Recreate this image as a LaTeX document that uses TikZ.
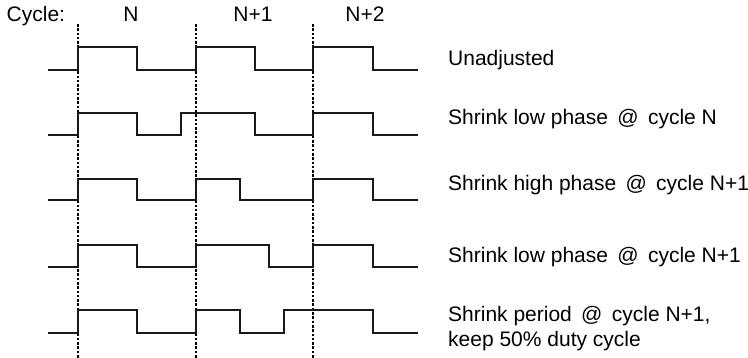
\documentclass[tikz,border=0pt]{standalone}
\usepackage{fontspec}
\setmainfont{Liberation Sans}
\begin{document}
\begin{tikzpicture}[x=1pt,y=-1pt,
  wave/.style={line width=1.7pt,line join=miter,black!90},
  guide/.style={line width=2.1pt,dash pattern=on 2.6pt off 1.7pt,black},
  lbl/.style={font=\fontsize{21}{25}\selectfont,inner sep=0pt,anchor=base west,align=left},
  cyc/.style={font=\fontsize{21}{25}\selectfont,inner sep=0pt,anchor=base}]
\useasboundingbox (0,0) rectangle (748,358);
% cycle boundaries
\coordinate (g1t) at (78,24);  \coordinate (g1b) at (78,358);
\coordinate (g2t) at (196,24); \coordinate (g2b) at (196,358);
\coordinate (g3t) at (313,24); \coordinate (g3b) at (313,358);
\draw[guide] (g1t) -- (g1b);
\draw[guide] (g2t) -- (g2b);
\draw[guide] (g3t) -- (g3b);
% header
\node[lbl] (cycle) at (6.5,21.7) {Cycle:};
\node[cyc] (cN) at (131,21.7) {N};
\node[cyc] (cN1) at (253,21.7) {N+1};
\node[cyc] (cN2) at (365,21.7) {N+2};
% waveforms
\draw[wave] (48,70) -- (78,70) -- (78,47) -- (137,47) -- (137,70) -- (196,70) -- (196,47) -- (255,47) -- (255,70) -- (313,70) -- (313,47) -- (373,47) -- (373,70) -- (418,70);
\draw[wave] (48,135) -- (78,135) -- (78,113) -- (137,113) -- (137,135) -- (181,135) -- (181,113) -- (255,113) -- (255,135) -- (313,135) -- (313,113) -- (373,113) -- (373,135) -- (418,135);
\draw[wave] (48,200) -- (78,200) -- (78,179) -- (137,179) -- (137,200) -- (196,200) -- (196,179) -- (240,179) -- (240,200) -- (313,200) -- (313,179) -- (373,179) -- (373,200) -- (418,200);
\draw[wave] (48,267) -- (78,267) -- (78,245) -- (137,245) -- (137,267) -- (196,267) -- (196,245) -- (269,245) -- (269,267) -- (313,267) -- (313,245) -- (373,245) -- (373,267) -- (418,267);
\draw[wave] (48,333) -- (78,333) -- (78,310) -- (137,310) -- (137,333) -- (196,333) -- (196,310) -- (240,310) -- (240,333) -- (284,333) -- (284,310) -- (373,310) -- (373,333) -- (418,333);
% labels
\node[lbl] (l1) at (448,66) {Unadjusted};
\node[lbl] (l2) at (448,125) {Shrink low phase \,@\, cycle N};
\node[lbl] (l3) at (448,190.7) {Shrink high phase \,@\, cycle N+1};
\node[lbl] (l4) at (448,263) {Shrink low phase \,@\, cycle N+1};
\node[lbl] (l5) at (448,321.7) {Shrink period \,@\, cycle N+1,};
\node[lbl] (l6) at (448,346.7) {keep 50\% duty cycle};
\end{tikzpicture}
\end{document}
